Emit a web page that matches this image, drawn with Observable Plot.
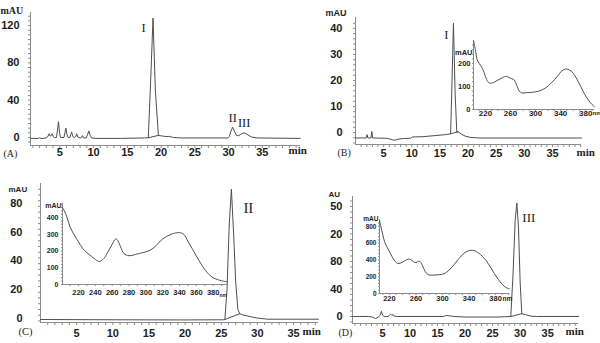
<!DOCTYPE html>
<html><head><meta charset="utf-8">
<script src="https://cdn.jsdelivr.net/npm/d3@7"></script>
<script src="https://cdn.jsdelivr.net/npm/@observablehq/plot@0.6"></script>
<style>
body{margin:0;background:#fff;}
#root{position:relative;width:600px;height:343px;overflow:hidden;background:#fff;}
.p{position:absolute;}
</style></head><body><div id="root"></div>
<script>
// ---------- DATA ----------
// Chromatogram A: [retention time (min), absorbance (mAU)]
const traceA = [[0.65,-1],[1.8,-1],[2.0,-0.3],[2.2,-1],[2.5,-1],[3.0,-0.5],[3.25,1.5],[3.4,4],[3.55,1.5],[3.7,2],[3.85,4],[4.0,1],[4.2,0],[4.5,0],[4.65,8],[4.8,17],[4.95,5],[5.1,0],[5.6,0],[5.75,5],[5.9,10],[6.05,3],[6.25,0],[6.5,0],[6.62,3],[6.75,6],[6.9,1],[7.1,0],[7.35,1],[7.5,4],[7.65,0.5],[8.0,-0.5],[8.2,0],[8.35,2],[8.5,-0.5],[8.9,-0.5],[9.1,3],[9.3,7],[9.5,2],[9.7,-0.5],[10.5,-1],[14,-1],[17.5,-0.5],[18.1,-0.3],[18.45,60],[18.8,128],[19.15,50],[19.6,2.2],[20,1.8],[20.7,1],[21.2,1.2],[21.8,0],[23,-0.5],[29.9,-0.5],[30.1,1],[30.35,7],[30.6,11],[30.9,6],[31.2,2],[31.5,2],[31.9,4],[32.3,5],[32.8,3],[33.4,0.5],[34.2,-0.5],[40.6,-1]];
const underA = [[18.1,-0.3],[19.6,2.2]];
const peaksA = [{label:"I",t:18.8,v:128},{label:"II",t:30.6,v:11},{label:"III",t:32.3,v:5}];
const yTicksA = [0,40,80,120];

// Chromatogram B
const traceB = [[0,-2.1],[1.9,-2.1],[2.05,-0.8],[2.2,-2.1],[2.75,-2.1],[2.9,0.4],[3.05,-2.1],[5.5,-2.2],[6.3,-2.6],[6.9,-3.0],[7.5,-2.6],[8.5,-2.3],[9.8,-2.2],[10.1,-1.7],[12,-1.6],[14,-1.2],[16,-0.8],[16.9,-0.5],[17.15,20],[17.4,42],[17.7,15],[18.0,0],[18.3,0.2],[18.8,-0.6],[19.5,-1.4],[20.5,-1.9],[22,-2.1],[40.15,-2.1]];
const underB = [[16.9,-0.5],[18.2,0.3]];
const peaksB = [{label:"I",t:17.4,v:42}];
const yTicksB = [0,10,20,30,40];

// Chromatogram C
const traceC = [[0,-1],[10,-1.2],[20,-1.3],[25.3,-1.2],[25.5,-1],[25.8,20],[26.1,65],[26.4,90],[26.7,60],[27.0,25],[27.3,6],[27.55,3],[28,2.2],[29,1],[30,0],[31.4,-0.8],[38.45,-0.8]];
const underC = [[25.5,-1],[27.55,3]];
const peaksC = [{label:"II",t:26.4,v:90}];
const yTicksC = [0,20,40,60,80];

// Chromatogram D (tick labels as printed)
const traceD = [[-0.45,0],[2.5,0],[3.2,-1],[3.7,-3],[4.2,-1],[4.6,2],[4.8,7.5],[5.0,2],[5.3,0],[6.0,0],[6.3,2],[6.5,3.5],[6.7,1.5],[6.9,3],[7.1,0.5],[7.6,0],[16,0],[16.6,1.5],[17.2,1],[18,0],[20,-0.8],[26,-0.8],[28.3,0],[28.7,60],[29.1,140],[29.4,165],[29.7,130],[30.0,50],[30.3,4],[31,2.5],[32,0.5],[33,0],[40.6,0]];
const underD = [[28.3,0],[30.3,4]];
const peaksD = [{label:"III",t:29.4,v:165}];
const yTicksD = [0,40,80,120,160];
const yLabelsD = ["0","40","80","20","50"];

const xTicksMin = [5,10,15,20,25,30,35];

// UV spectra insets: [wavelength (nm), absorbance (mAU)]
const specB = [[201,300],[204,260],[207,215],[210,200],[214,185],[218,160],[222,130],[226,115],[230,115],[235,120],[240,128],[245,135],[250,142],[254,144],[258,138],[262,134],[266,128],[270,105],[274,80],[278,72],[285,73],[295,75],[305,80],[315,92],[325,115],[335,145],[342,168],[348,176],[354,172],[360,158],[366,132],[372,100],[378,68],[384,42],[390,22],[394,12]];
const specBxTicks = [220,260,300,340,380];
const specByTicks = [0,100,200];

const specC = [[201,460],[205,420],[210,345],[215,295],[220,255],[225,215],[230,190],[235,170],[240,150],[245,138],[250,155],[255,195],[260,240],[264,272],[266,268],[270,225],[274,185],[280,172],[290,183],[300,195],[305,205],[310,222],[320,272],[330,300],[340,310],[345,300],[350,258],[355,215],[360,170],[365,128],[370,90],[375,60],[380,40],[385,30],[390,22],[397,16]];
const specCxTicks = [220,240,260,280,300,320,340,360,380];
const specCyTicks = [0,100,200,300,400];

const specD = [[205,880],[207,800],[210,700],[213,610],[217,545],[222,470],[227,400],[232,360],[237,365],[243,390],[248,410],[252,405],[256,380],[260,370],[264,385],[267,375],[270,330],[274,260],[278,225],[285,220],[295,225],[302,235],[310,280],[318,350],[326,430],[334,490],[342,515],[348,512],[354,485],[360,445],[366,390],[372,320],[378,240],[384,170],[390,110],[396,70],[401,55]];
const specDxTicks = [220,260,300,340,380];
const specDyTicks = [0,200,400,600,800];

// ---------- DRAWING ----------
const SANS = "'Liberation Sans', Arial, sans-serif";
const SERIF = "'Liberation Serif', 'Times New Roman', serif";
const INK = "#1e1e1e", AXIS = "#8c8c8c", LINE = "#4f4f4f";
const root = document.getElementById("root");

function place(svg, left, top) {
  const d = document.createElement("div");
  d.className = "p"; d.style.left = left + "px"; d.style.top = top + "px";
  d.appendChild(svg); root.appendChild(d);
}
const txt = (s, o) => Plot.text([s], {text: d => d, ...o});

function panel(o) {
  const [x0] = o.xDomain, [y0] = o.yDomain;
  const fmt = o.yLabels ? (d => o.yLabels[o.yTicks.indexOf(d)]) : (d => String(d));
  const marks = [
    Plot.ruleX([x0], {stroke: AXIS, strokeWidth: 1}),
    Plot.ruleY([y0], {stroke: AXIS, strokeWidth: 1}),
    Plot.axisY(o.yMinor, {anchor: "left", tickSize: o.tick, tickFormat: () => "", stroke: AXIS, label: null}),
    Plot.axisX(o.xMinor, {anchor: "bottom", tickSize: o.tick + 1, tickFormat: () => "", stroke: AXIS, label: null}),
    Plot.axisY(o.yTicks, {anchor: "left", tickSize: 0, tickPadding: o.yPad, tickFormat: fmt, fontWeight: "bold", fontSize: o.fsY, fontFamily: SANS, fill: INK, label: null}),
    Plot.axisX(o.xTicks, {anchor: "bottom", tickSize: 0, tickPadding: o.xPad, tickFormat: d => String(d), fontWeight: "bold", fontSize: o.fsX, fontFamily: SANS, fill: INK, label: null}),
    Plot.line(o.trace, {x: d => d[0], y: d => d[1], stroke: LINE, strokeWidth: 1, curve: o.curve || "linear"})
  ];
  if (o.under) marks.push(Plot.line(o.under, {x: d => d[0], y: d => d[1], stroke: LINE, strokeWidth: 1}));
  (o.peaks || []).forEach((p, i) => {
    const off = o.peakOff[i];
    marks.push(Plot.text([p], {x: "t", y: "v", text: "label", dx: off[0], dy: off[1], fontFamily: SERIF, fontSize: o.fsPeak, fill: INK}));
  });
  (o.texts || []).forEach(t => marks.push(txt(t.s, t.o)));
  return Plot.plot({
    width: o.width, height: o.height,
    marginLeft: o.m[3], marginRight: o.m[1], marginTop: o.m[0], marginBottom: o.m[2],
    x: {domain: o.xDomain, label: null},
    y: {domain: o.yDomain, label: null},
    style: {background: "transparent", overflow: "visible", maxWidth: "none", fontFamily: SANS},
    marks
  });
}

// Panel A
place(panel({
  width: 305, height: 170, m: [12, 5, 25, 30],
  xDomain: [0.65, 40.65], yDomain: [-8.6, 134],
  trace: traceA, under: underA, peaks: peaksA, peakOff: [[-9.5, 9.5], [0, -9], [0, -9.5]], fsPeak: 12.5,
  yTicks: yTicksA, yMinor: d3.range(-5, 134, 5), xTicks: xTicksMin, xMinor: d3.range(1, 41, 1),
  yPad: 11, xPad: 3, fsX: 11, fsY: 11, tick: 2,
  texts: [
    {s: "mAU", o: {frameAnchor: "top-left", dx: -30, dy: -6, textAnchor: "start", fontFamily: SERIF, fontWeight: "bold", fontSize: 10, fill: INK}},
    {s: "min", o: {frameAnchor: "bottom-right", dx: -12, dy: 8, textAnchor: "start", fontFamily: SERIF, fontWeight: "bold", fontSize: 11, fill: INK}},
    {s: "(A)", o: {frameAnchor: "bottom-left", dx: -27, dy: 11, textAnchor: "start", fontFamily: SERIF, fontSize: 10, fill: INK}}
  ]
}), 0, 0);

// Panel B
place(panel({
  width: 300, height: 170, m: [17, 19, 26, 55],
  xDomain: [0, 40.15], yDomain: [-4.6, 44.2],
  trace: traceB, under: underB, peaks: peaksB, peakOff: [[-7, 12]], fsPeak: 12.5,
  yTicks: yTicksB, yMinor: d3.range(-4, 44, 2), xTicks: xTicksMin, xMinor: d3.range(1, 41, 1),
  yPad: 13, xPad: 5, fsX: 11, fsY: 11, tick: 2,
  texts: [
    {s: "mAU", o: {frameAnchor: "top-left", dx: -30, dy: -8, textAnchor: "start", fontWeight: "bold", fontSize: 9, fill: INK}},
    {s: "min", o: {frameAnchor: "bottom-right", dx: -5, dy: 11, textAnchor: "start", fontFamily: SERIF, fontWeight: "bold", fontSize: 11, fill: INK}},
    {s: "(B)", o: {frameAnchor: "bottom-left", dx: -18, dy: 11, textAnchor: "start", fontFamily: SERIF, fontSize: 10, fill: INK}}
  ]
}), 300, 0);

// Panel C
place(panel({
  width: 320, height: 173, m: [13, 2, 21, 40],
  xDomain: [0, 38.45], yDomain: [-3.1, 94],
  trace: traceC, under: underC, peaks: peaksC, peakOff: [[17, 19]], fsPeak: 15,
  yTicks: yTicksC, yMinor: d3.range(-2, 94, 4), xTicks: xTicksMin, xMinor: d3.range(1, 39, 1),
  yPad: 18, xPad: 7, fsX: 11, fsY: 11, tick: 2,
  texts: [
    {s: "mAU", o: {frameAnchor: "top-left", dx: -32, dy: 3, textAnchor: "start", fontWeight: "bold", fontSize: 8, fill: INK}},
    {s: "min", o: {frameAnchor: "bottom-right", dx: -16, dy: 12, textAnchor: "start", fontFamily: SERIF, fontWeight: "bold", fontSize: 11, fill: INK}},
    {s: "(C)", o: {frameAnchor: "bottom-left", dx: -22, dy: 12, textAnchor: "start", fontFamily: SERIF, fontSize: 10.5, fill: INK}}
  ]
}), 0, 170);

// Panel D
place(panel({
  width: 300, height: 173, m: [26, 22, 20, 52],
  xDomain: [-0.45, 40.6], yDomain: [-10.2, 174.5],
  trace: traceD, under: underD, peaks: peaksD, peakOff: [[12, 14.5]], fsPeak: 13,
  yTicks: yTicksD, yLabels: yLabelsD, yMinor: d3.range(-8, 174, 8), xTicks: xTicksMin, xMinor: d3.range(0, 41, 1),
  yPad: 10, xPad: 6, fsX: 11, fsY: 11, tick: 2,
  texts: [
    {s: "AU", o: {frameAnchor: "top-left", dx: -24, dy: -5, textAnchor: "start", fontWeight: "bold", fontSize: 8, fill: INK}},
    {s: "min", o: {frameAnchor: "bottom-right", dx: -13, dy: 11, textAnchor: "start", fontFamily: SERIF, fontWeight: "bold", fontSize: 11, fill: INK}},
    {s: "(D)", o: {frameAnchor: "bottom-left", dx: -14, dy: 12, textAnchor: "start", fontFamily: SERIF, fontSize: 10, fill: INK}}
  ]
}), 300, 170);

// Inset B
place(panel({
  width: 160, height: 95, m: [10, 6, 16, 33],
  xDomain: [201, 394], yDomain: [0, 300],
  trace: specB, curve: "catmull-rom",
  yTicks: specByTicks, yMinor: d3.range(0, 300, 20), xTicks: specBxTicks, xMinor: d3.range(210, 394, 10),
  yPad: 3, xPad: 1, fsX: 8, fsY: 7.5, tick: 1,
  texts: [
    {s: "mAU", o: {frameAnchor: "top-left", dx: -1, dy: 9, textAnchor: "end", fontWeight: "bold", fontSize: 7.5, fill: INK}},
    {s: "nm", o: {frameAnchor: "bottom-right", dx: -2, dy: 5.5, textAnchor: "start", fontWeight: "bold", fontSize: 6, fill: INK}}
  ]
}), 440, 30);

// Inset C
place(panel({
  width: 215, height: 110, m: [13, 8, 16, 42],
  xDomain: [201, 397], yDomain: [0, 484],
  trace: specC, curve: "catmull-rom",
  yTicks: specCyTicks, yMinor: d3.range(0, 484, 20), xTicks: specCxTicks, xMinor: d3.range(210, 397, 10),
  yPad: 4, xPad: 5, fsX: 7.5, fsY: 7, tick: 1,
  texts: [
    {s: "mAU", o: {frameAnchor: "top-left", dx: -1, dy: 0, textAnchor: "end", fontWeight: "bold", fontSize: 7, fill: INK}},
    {s: "nm", o: {frameAnchor: "bottom-right", dx: -8, dy: 12, textAnchor: "start", fontWeight: "bold", fontSize: 5, fill: INK}}
  ]
}), 20, 190);

// Inset D
place(panel({
  width: 180, height: 105, m: [15, 11, 17, 39],
  xDomain: [205, 401], yDomain: [0, 872],
  trace: specD, curve: "catmull-rom",
  yTicks: specDyTicks, yMinor: d3.range(0, 872, 40), xTicks: specDxTicks, xMinor: d3.range(210, 401, 10),
  yPad: 3, xPad: 2, fsX: 7.5, fsY: 6.5, tick: 1,
  texts: [
    {s: "mAU", o: {frameAnchor: "top-left", dx: -1, dy: -4, textAnchor: "end", fontWeight: "bold", fontSize: 6.5, fill: INK}},
    {s: "nm", o: {frameAnchor: "bottom-right", dx: -7, dy: 7, textAnchor: "start", fontWeight: "bold", fontSize: 6.5, fill: INK}}
  ]
}), 340, 205);
</script></body></html>
